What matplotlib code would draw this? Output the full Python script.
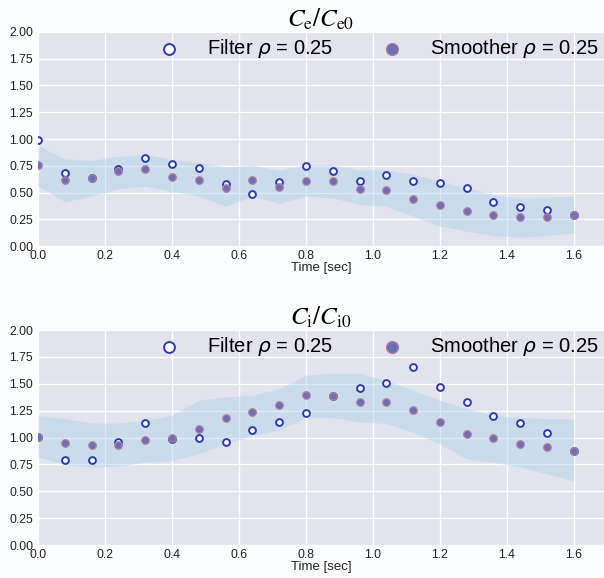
import numpy as np
import matplotlib
matplotlib.use('Agg')
import matplotlib.pyplot as plt

# time grid
t = [0.00, 0.08, 0.16, 0.24, 0.32, 0.40, 0.48, 0.56, 0.64, 0.72, 0.80,
     0.88, 0.96, 1.04, 1.12, 1.20, 1.28, 1.36, 1.44, 1.52, 1.60]

# C_e / C_e0
ce_filter = [0.99, 0.68, 0.64, 0.72, 0.82, 0.765, 0.73, 0.58, 0.49, 0.60, 0.75,
             0.70, 0.61, 0.666, 0.61, 0.594, 0.54, 0.417, 0.37, 0.336, 0.29]
ce_smoother = [0.76, 0.62, 0.64, 0.70, 0.72, 0.65, 0.62, 0.54, 0.62, 0.55, 0.61,
               0.605, 0.535, 0.526, 0.445, 0.386, 0.333, 0.29, 0.27, 0.27, 0.29]
ce_upper = [0.94, 0.815, 0.80, 0.84, 0.855, 0.81, 0.78, 0.74, 0.755, 0.71, 0.76,
            0.76, 0.71, 0.715, 0.67, 0.61, 0.545, 0.48, 0.45, 0.457, 0.467]
ce_lower = [0.56, 0.414, 0.467, 0.535, 0.56, 0.51, 0.467, 0.373, 0.467, 0.40, 0.467,
            0.45, 0.39, 0.37, 0.28, 0.187, 0.14, 0.10, 0.084, 0.10, 0.124]

# C_i / C_i0
ci_filter = [1.005, 0.79, 0.79, 0.955, 1.135, 0.983, 0.998, 0.955, 1.07, 1.14, 1.23,
             1.39, 1.465, 1.505, 1.655, 1.47, 1.334, 1.20, 1.135, 1.04, 0.877]
ci_smoother = [1.005, 0.95, 0.927, 0.933, 0.974, 0.995, 1.076, 1.185, 1.238, 1.306, 1.393,
               1.39, 1.334, 1.33, 1.257, 1.148, 1.03, 0.995, 0.936, 0.91, 0.877]
ci_upper = [1.207, 1.176, 1.135, 1.135, 1.16, 1.207, 1.347, 1.378, 1.393, 1.455, 1.58,
            1.596, 1.596, 1.533, 1.44, 1.347, 1.27, 1.207, 1.185, 1.176, 1.173]
ci_lower = [0.818, 0.75, 0.725, 0.734, 0.77, 0.787, 0.849, 0.942, 1.02, 1.067, 1.19,
            1.185, 1.145, 1.13, 1.05, 0.942, 0.80, 0.77, 0.725, 0.663, 0.594]

titles = [r'$C_{\rm e}/C_{\rm e0}$', r'$C_{\rm i}/C_{\rm i0}$']
filter_label = r'Filter $\rho$ = 0.25'
smoother_label = r'Smoother $\rho$ = 0.25'

plt.rcParams['font.family'] = ['Liberation Sans', 'DejaVu Sans']

fig = plt.figure(figsize=(6.04, 5.78), dpi=100)
fig.patch.set_facecolor('#fbfcfd')

ax_top = fig.add_axes([0.063, 0.574, 0.937, 0.371])
ax_bot = fig.add_axes([0.063, 0.057, 0.937, 0.372])

panels = [
    (ax_top, ce_filter, ce_smoother, ce_upper, ce_lower, titles[0]),
    (ax_bot, ci_filter, ci_smoother, ci_upper, ci_lower, titles[1]),
]

for ax, filt, smooth, up, low, title in panels:
    ax.set_facecolor('#e2e3ec')
    ax.fill_between(t, low, up, color='#aed4ee', alpha=0.45, lw=0, zorder=1)
    ax.scatter(t, filt, s=24, facecolors='white', edgecolors='#2a3bb0',
               linewidths=1.4, zorder=3, label=filter_label)
    ax.scatter(t, smooth, s=28, facecolors='#6a6fb8', edgecolors='#b07a9a',
               linewidths=1.0, zorder=4, label=smoother_label)
    ax.set_xlim(0, 1.69)
    ax.set_ylim(0, 2.0)
    ax.set_xticks(np.arange(0, 1.61, 0.2))
    ax.set_yticks(np.arange(0, 2.01, 0.25))
    ax.xaxis.set_major_formatter(matplotlib.ticker.FormatStrFormatter('%.1f'))
    ax.yaxis.set_major_formatter(matplotlib.ticker.FormatStrFormatter('%.2f'))
    ax.grid(True, color='white', lw=1.0, zorder=0)
    ax.set_axisbelow(True)
    for s in ax.spines.values():
        s.set_visible(False)
    ax.tick_params(length=0, labelsize=8.8, colors='#222222')
    ax.tick_params(axis='y', pad=3.5)
    ax.tick_params(axis='x', pad=3)
    ax.set_xlabel('Time [sec]', fontsize=9.5, labelpad=0, color='#222222')
    ax.set_title(title, fontsize=18, math_fontfamily='stix', pad=2)
    ax.legend(loc='upper right', ncol=2, frameon=False,
              markerscale=1.6, handletextpad=0.9, columnspacing=1.9,
              borderpad=0.2, borderaxespad=0.05,
              prop={'size': 14.5, 'math_fontfamily': 'dejavusans'})

fig.savefig('out.png', dpi=100, facecolor=fig.get_facecolor())
